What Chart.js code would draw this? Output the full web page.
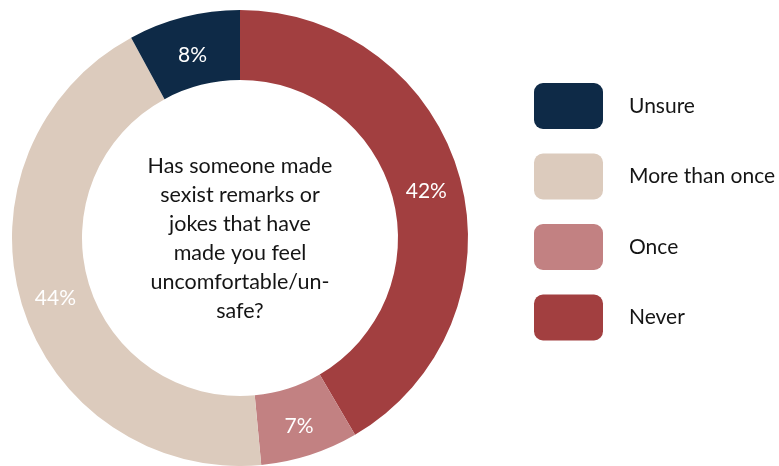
<!DOCTYPE html>
<html>
<head>
<meta charset="utf-8">
<script src="https://cdn.jsdelivr.net/npm/chart.js@4"></script>
<style>
  html, body { margin: 0; padding: 0; background: #ffffff; }
  #wrap { width: 779px; height: 466px; position: relative; }
</style>
</head>
<body>
<div id="wrap"><canvas id="surveyChart" width="779" height="466"></canvas></div>
<script>
// Answers in clockwise order from the top
const answers = ["Never", "Once", "More than once", "Unsure"];
const shares = [42, 7, 44, 8];
const sliceColors = ["#a23f40", "#c28182", "#dccbbd", "#0e2a47"];
const questionLines = [
    "Has someone made",
    "sexist remarks or",
    "jokes that have",
    "made you feel",
    "uncomfortable/un-",
    "safe?"
];

const FONT = "Lato, 'Open Sans', sans-serif";

// Percentage label in the middle of each ring segment
const sliceLabels = {
    id: 'sliceLabels',
    afterDatasetsDraw(chart) {
        const ctx = chart.ctx;
        const meta = chart.getDatasetMeta(0);
        ctx.save();
        ctx.fillStyle = '#ffffff';
        ctx.font = '21px ' + FONT;
        ctx.textAlign = 'center';
        ctx.textBaseline = 'middle';
        meta.data.forEach((arc, i) => {
            const pos = arc.tooltipPosition();
            ctx.fillText(shares[i] + '%', pos.x, pos.y + 4);
        });
        ctx.restore();
    }
};

// Question text in the hole of the doughnut
const centerText = {
    id: 'centerText',
    afterDatasetsDraw(chart) {
        const ctx = chart.ctx;
        const arc = chart.getDatasetMeta(0).data[0];
        const lineH = 29;
        const top = arc.y + 1 - (questionLines.length - 1) * lineH / 2;
        ctx.save();
        ctx.fillStyle = '#151515';
        ctx.font = '21.5px ' + FONT;
        ctx.textAlign = 'center';
        ctx.textBaseline = 'middle';
        questionLines.forEach((line, i) => {
            ctx.fillText(line, arc.x, top + i * lineH);
        });
        ctx.restore();
    }
};

// Legend on the right, last answer first
const sideLegend = {
    id: 'sideLegend',
    afterDraw(chart) {
        const ctx = chart.ctx;
        const boxX = 534, boxW = 69, boxH = 46, gap = 70.5, firstY = 83;
        ctx.save();
        ctx.font = '21px ' + FONT;
        ctx.textBaseline = 'middle';
        ctx.textAlign = 'left';
        for (let k = 0; k < answers.length; k++) {
            const i = answers.length - 1 - k;
            const y = firstY + k * gap;
            ctx.fillStyle = sliceColors[i];
            ctx.beginPath();
            ctx.roundRect(boxX, y, boxW, boxH, 9);
            ctx.fill();
            ctx.fillStyle = '#151515';
            ctx.fillText(answers[i], 629, y + boxH / 2);
        }
        ctx.restore();
    }
};

new Chart(document.getElementById('surveyChart').getContext('2d'), {
    type: 'doughnut',
    data: {
        labels: answers,
        datasets: [{
            data: shares,
            backgroundColor: sliceColors,
            borderWidth: 0
        }]
    },
    options: {
        responsive: false,
        animation: false,
        cutout: '69.3%',
        layout: { padding: { top: 10, right: 311, bottom: 0, left: 12 } },
        plugins: {
            legend: { display: false },
            tooltip: { enabled: false }
        }
    },
    plugins: [sliceLabels, centerText, sideLegend]
});
</script>
</body>
</html>
